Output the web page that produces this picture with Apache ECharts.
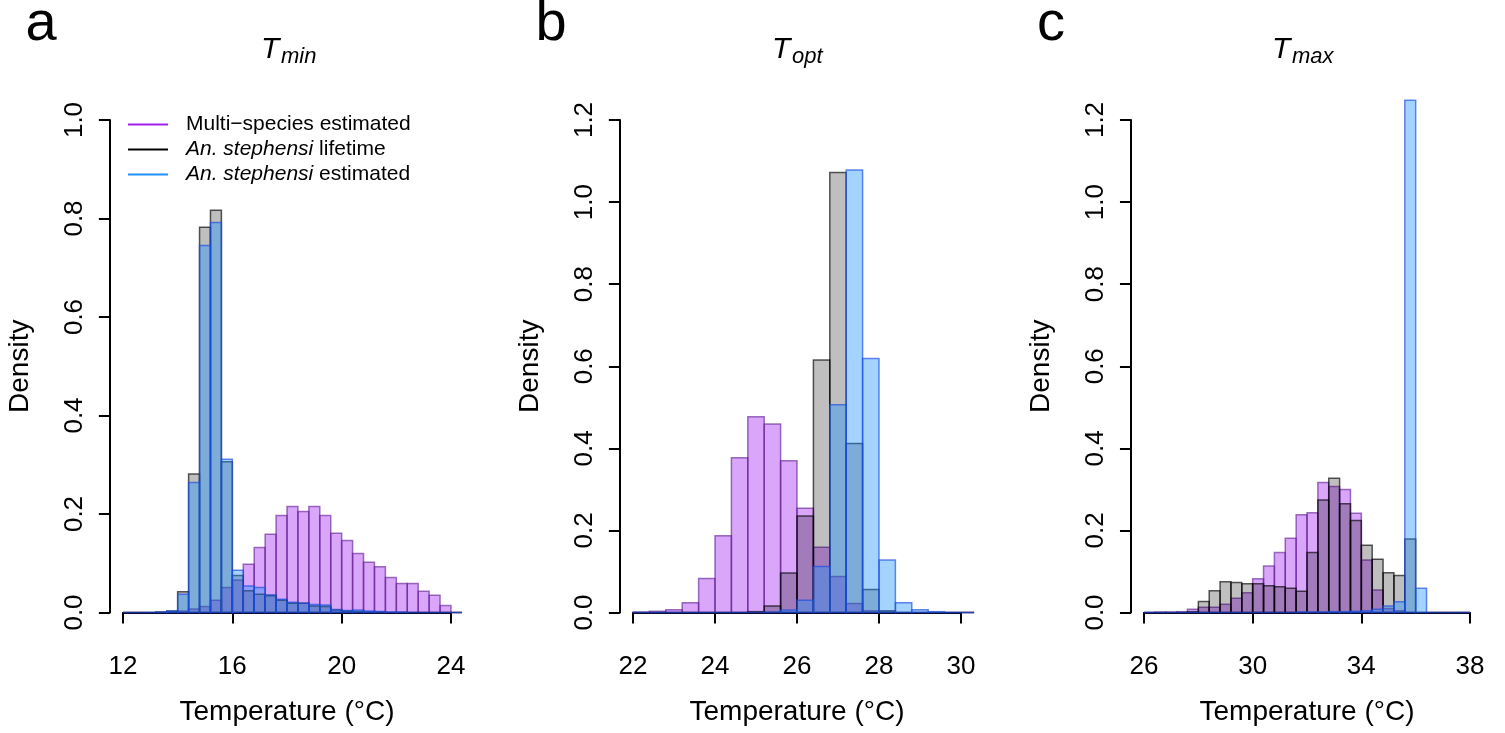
<!DOCTYPE html>
<html>
<head>
<meta charset="utf-8">
<script src="https://cdn.jsdelivr.net/npm/echarts@6/dist/echarts.min.js"></script>
<style>
  html, body { margin: 0; padding: 0; background: #ffffff; }
  #chart { width: 1505px; height: 733px; }
</style>
</head>
<body>
<div id="chart"></div>
<script>
const binWidth = 0.4

// a: Tmin, bins start at 12.0
const tminStart = 12.0
const tminMulti = [0, 0, 0, 0, 0.001, 0.003, 0.007, 0.012, 0.025, 0.051, 0.066, 0.098, 0.132, 0.159, 0.197, 0.215, 0.205, 0.215, 0.197, 0.161, 0.146, 0.120, 0.102, 0.093, 0.071, 0.059, 0.059, 0.043, 0.035, 0.014, 0]
const tminLifetime = [0, 0, 0, 0.001, 0.003, 0.042, 0.281, 0.782, 0.817, 0.306, 0.075, 0.044, 0.037, 0.034, 0.025, 0.019, 0.019, 0.013, 0.012, 0.005, 0.003, 0.002, 0.001, 0.001, 0, 0, 0, 0, 0, 0, 0]
const tminEstimated = [0, 0, 0, 0.001, 0.003, 0.037, 0.264, 0.745, 0.792, 0.311, 0.086, 0.054, 0.051, 0.036, 0.027, 0.021, 0.019, 0.016, 0.015, 0.006, 0.004, 0.005, 0.003, 0.002, 0.001, 0.001, 0, 0, 0, 0, 0]

// b: Topt, bins start at 22.0
const toptStart = 22.0
const toptMulti = [0.001, 0.003, 0.007, 0.024, 0.083, 0.187, 0.377, 0.477, 0.459, 0.370, 0.254, 0.159, 0.088, 0.022, 0.004, 0.001, 0, 0, 0, 0, 0]
const toptLifetime = [0, 0, 0, 0, 0, 0, 0, 0.002, 0.016, 0.096, 0.235, 0.615, 1.072, 0.412, 0.056, 0.004, 0, 0, 0, 0, 0]
const toptEstimated = [0, 0, 0, 0, 0, 0, 0, 0, 0.001, 0.006, 0.030, 0.112, 0.506, 1.078, 0.619, 0.128, 0.024, 0.007, 0.002, 0, 0]

// c: Tmax, bins start at 26.0
const tmaxStart = 26.0
const tmaxMulti = [0, 0.001, 0.001, 0.002, 0.008, 0.013, 0.013, 0.020, 0.035, 0.048, 0.082, 0.113, 0.146, 0.181, 0.238, 0.243, 0.317, 0.307, 0.300, 0.242, 0.128, 0.055, 0.010, 0.004, 0, 0, 0, 0, 0, 0]
const tmaxLifetime = [0, 0, 0, 0, 0.002, 0.027, 0.053, 0.075, 0.073, 0.070, 0.070, 0.065, 0.063, 0.059, 0.052, 0.146, 0.274, 0.327, 0.265, 0.224, 0.164, 0.130, 0.097, 0.090, 0.179, 0, 0, 0, 0, 0]
const tmaxEstimated = [0, 0, 0, 0, 0, 0, 0, 0, 0, 0, 0, 0, 0, 0, 0.001, 0.001, 0.001, 0.002, 0.002, 0.003, 0.004, 0.008, 0.016, 0.026, 2.38, 0.059, 0, 0, 0, 0]

const seriesNames = ['Multi\u2212species estimated', 'An. stephensi lifetime', 'An. stephensi estimated']
const panelLetters = ['a', 'b', 'c']
const panelSubs = ['min', 'opt', 'max']
const xTicks = [[12, 24, 4], [22, 30, 2], [26, 38, 4]]
const yTopTick = [1.0, 1.2, 1.2]

const FONT = '"Liberation Sans", Arial, Helvetica, sans-serif'

// layout of each panel (pixels of the tick range)
const panelLeft = [123, 633, 1144]
const panelWidth = [328, 328, 326]
const plotTop = 120
const plotHeight = 492.5
const letterX = [41, 551, 1051]
const titleLeft = [261, 772, 1272]

const legendColors = ['#A020F0', '#000000', '#1E90FF']
const fills = ['rgba(160,32,240,0.4)', 'rgba(0,0,0,0.25)', 'rgba(30,144,255,0.4)']
const strokes = ['rgba(95,25,145,0.6)', 'rgba(0,0,0,0.65)', 'rgba(25,75,225,0.65)']

const panelData = [
  [tminStart, [tminMulti, tminLifetime, tminEstimated]],
  [toptStart, [toptMulti, toptLifetime, toptEstimated]],
  [tmaxStart, [tmaxMulti, tmaxLifetime, tmaxEstimated]]
]

function toBins(start, values) {
  return values.map((v, i) => [start + i * binWidth, start + (i + 1) * binWidth, v])
}

// R style plot region: 4% beyond the axis range on every side
function makeRender(k, kind) {
  const [xMin, xMax] = xTicks[k]
  const xExt = 0.04 * (xMax - xMin)
  const yExt = 0.04 * yTopTick[k]
  return function (params, api) {
    const p0 = api.coord([api.value(0), 0])
    const p1 = api.coord([api.value(1), api.value(2)])
    const c0 = api.coord([xMin - xExt, yTopTick[k] + yExt])
    const c1 = api.coord([xMax + xExt, -yExt])
    const rect = echarts.graphic.clipRectByRect(
      { x: p0[0], y: p1[1], width: p1[0] - p0[0], height: p0[1] - p1[1] },
      { x: c0[0], y: c0[1], width: c1[0] - c0[0], height: c1[1] - c0[1] }
    )
    if (!rect) return
    return {
      type: 'rect',
      shape: rect,
      style: { fill: fills[kind], stroke: strokes[kind], lineWidth: 1.5 }
    }
  }
}

const grids = []
const xAxes = []
const yAxes = []
const series = []
const graphics = []

for (let k = 0; k < 3; k++) {
  const [xMin, xMax, xStep] = xTicks[k]
  grids.push({
    left: panelLeft[k], top: plotTop, width: panelWidth[k], height: plotHeight,
    containLabel: false, outerBoundsMode: 'none'
  })
  xAxes.push({
    type: 'value', gridIndex: k, min: xMin, max: xMax, interval: xStep,
    offset: 0.04 * plotHeight,
    name: 'Temperature (\u00B0C)', nameLocation: 'middle', nameGap: 66,
    nameTextStyle: { fontFamily: FONT, fontSize: 28, color: '#000' },
    axisLine: { show: true, lineStyle: { color: '#000', width: 2 } },
    axisTick: { show: true, length: 11, lineStyle: { color: '#000', width: 2 } },
    axisLabel: { fontFamily: FONT, fontSize: 26, color: '#000', margin: 22, showMinLabel: true, showMaxLabel: true },
    splitLine: { show: false }
  })
  yAxes.push({
    type: 'value', gridIndex: k, min: 0, max: yTopTick[k], interval: 0.2,
    offset: 0.04 * panelWidth[k],
    name: 'Density', nameLocation: 'middle', nameGap: 76,
    nameTextStyle: { fontFamily: FONT, fontSize: 28, color: '#000' },
    axisLine: { show: true, lineStyle: { color: '#000', width: 2 } },
    axisTick: { show: true, length: 11, lineStyle: { color: '#000', width: 2 } },
    axisLabel: {
      fontFamily: FONT, fontSize: 26, color: '#000', margin: 22, rotate: 90,
      showMinLabel: true, showMaxLabel: true,
      formatter: v => v.toFixed(1)
    },
    splitLine: { show: false }
  })
  const [start, sets] = panelData[k]
  sets.forEach((values, kind) => {
    series.push({
      type: 'custom',
      name: seriesNames[kind],
      xAxisIndex: k,
      yAxisIndex: k,
      clip: false,
      silent: true,
      itemStyle: { color: legendColors[kind] },
      encode: { x: [0, 1], y: 2 },
      data: toBins(start, values),
      renderItem: makeRender(k, kind)
    })
  })

  // panel letter and title
  graphics.push({
    type: 'text', x: letterX[k], y: 25,
    style: { text: panelLetters[k], font: '56px ' + FONT, fill: '#000', align: 'center', verticalAlign: 'middle' }
  })
  graphics.push({
    type: 'text', x: titleLeft[k], y: 50,
    style: { text: 'T', font: 'italic 30px ' + FONT, fill: '#000', align: 'left', verticalAlign: 'middle' }
  })
  graphics.push({
    type: 'text', x: titleLeft[k] + 20, y: 57,
    style: { text: panelSubs[k], font: 'italic 22px ' + FONT, fill: '#000', align: 'left', verticalAlign: 'middle' }
  })
}

const chart = echarts.init(document.getElementById('chart'))
chart.setOption({
  backgroundColor: '#ffffff',
  animation: false,
  grid: grids,
  xAxis: xAxes,
  yAxis: yAxes,
  legend: {
    orient: 'vertical',
    left: 128,
    top: 114,
    padding: 0,
    itemGap: 4,
    itemWidth: 40,
    itemHeight: 2,
    icon: 'rect',
    selectedMode: false,
    data: seriesNames.map((n, i) => ({ name: n, itemStyle: { color: legendColors[i] } })),
    formatter: name => name.startsWith('An. stephensi')
      ? '{i|An. stephensi}' + name.slice(13)
      : name,
    textStyle: {
      fontFamily: FONT, fontSize: 21, color: '#000', padding: [0, 0, 0, 13],
      rich: { i: { fontFamily: FONT, fontSize: 21, fontStyle: 'italic', color: '#000' } }
    }
  },
  graphic: graphics,
  series: series
})
</script>
</body>
</html>
